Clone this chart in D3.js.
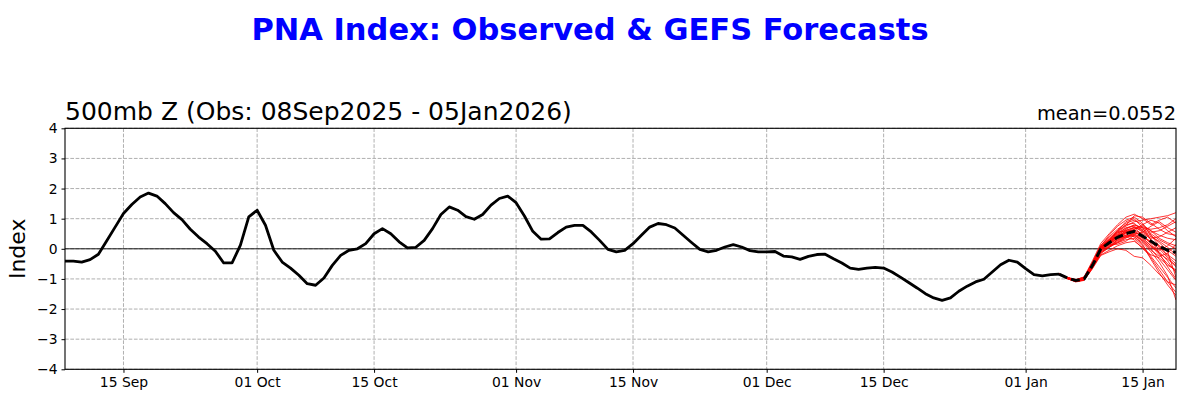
<!DOCTYPE html>
<html>
  <head>
    <meta charset="utf-8">
    <script type="text/javascript" src="https://cdn.jsdelivr.net/npm/d3@7"></script>
    <title>PNA Index</title>
    <style>
      body { margin: 0; background: #fff; }
      svg text { font-family: "DejaVu Sans", sans-serif; }
    </style>
  </head>
  <body>
    <div id="chart"></div>
    <script type="text/javascript">
    // observed daily PNA, 08 Sep 2025 .. 05 Jan 2026
    var obsStart = "2025-09-08";
    var obsValues = [
      -0.41, -0.41, -0.44, -0.36, -0.18, 0.27, 0.72, 1.17, 1.47, 1.72,
      1.85, 1.75, 1.50, 1.20, 0.97, 0.65, 0.39, 0.17, -0.08, -0.47,
      -0.47, 0.12, 1.06, 1.28, 0.78, -0.05, -0.44, -0.64, -0.88, -1.16,
      -1.21, -0.97, -0.55, -0.22, -0.05, 0.00, 0.17, 0.50, 0.67, 0.50,
      0.23, 0.03, 0.05, 0.28, 0.67, 1.14, 1.39, 1.28, 1.07, 0.98,
      1.14, 1.45, 1.67, 1.75, 1.53, 1.09, 0.58, 0.32, 0.33, 0.54,
      0.72, 0.78, 0.78, 0.56, 0.28, -0.02, -0.10, -0.05, 0.17, 0.45,
      0.72, 0.84, 0.80, 0.69, 0.45, 0.21, -0.02, -0.10, -0.05, 0.06,
      0.14, 0.06, -0.06, -0.10, -0.10, -0.09, -0.24, -0.27, -0.35, -0.25,
      -0.19, -0.18, -0.33, -0.47, -0.64, -0.68, -0.64, -0.62, -0.64, -0.77,
      -0.94, -1.12, -1.30, -1.49, -1.63, -1.71, -1.63, -1.41, -1.24, -1.10,
      -1.01, -0.77, -0.53, -0.38, -0.44, -0.66, -0.86, -0.90, -0.86, -0.84
    ];

    // GEFS forecast, daily from 05 Jan 2026
    var fcstStart = "2026-01-05";
    var fcstMean = [-0.84, -0.97, -1.05, -1.00, -0.55, 0.00, 0.20, 0.38, 0.50, 0.58, 0.42, 0.25, 0.08, -0.05, -0.12];
    var members = [
      [-0.84, -0.95, -1.05, -0.98, -0.50, 0.05, 0.30, 0.55, 0.75, 0.90, 0.95, 1.00, 1.05, 1.10, 1.20],
      [-0.84, -0.98, -1.08, -1.02, -0.60, -0.05, 0.20, 0.45, 0.65, 0.80, 0.70, 0.55, 0.60, 0.75, 0.90],
      [-0.84, -0.96, -1.04, -0.95, -0.45, 0.10, 0.35, 0.60, 0.80, 0.85, 0.60, 0.30, 0.05, -0.20, -0.40],
      [-0.84, -0.99, -1.10, -1.05, -0.65, -0.15, 0.05, 0.20, 0.30, 0.35, 0.10, -0.25, -0.60, -0.95, -1.30],
      [-0.84, -0.97, -1.06, -1.00, -0.55, 0.00, 0.25, 0.40, 0.45, 0.40, 0.20, -0.10, -0.45, -0.90, -1.70],
      [-0.84, -0.95, -1.03, -0.97, -0.52, 0.02, 0.18, 0.30, 0.45, 0.65, 0.75, 0.60, 0.35, 0.20, 0.10],
      [-0.84, -0.98, -1.07, -1.04, -0.62, -0.12, 0.08, 0.25, 0.40, 0.50, 0.35, 0.10, -0.20, -0.50, -0.75],
      [-0.84, -0.96, -1.05, -1.01, -0.58, -0.05, 0.22, 0.50, 0.70, 0.75, 0.55, 0.40, 0.25, 0.05, -0.20],
      [-0.84, -0.97, -1.04, -0.96, -0.48, 0.08, 0.28, 0.45, 0.55, 0.65, 0.80, 0.95, 0.85, 0.60, 0.40],
      [-0.84, -0.99, -1.09, -1.03, -0.62, -0.20, -0.05, 0.10, 0.20, 0.25, 0.05, -0.30, -0.70, -1.10, -1.45],
      [-0.84, -0.96, -1.05, -0.99, -0.53, 0.03, 0.26, 0.48, 0.62, 0.70, 0.45, 0.20, 0.00, -0.30, -0.60],
      [-0.84, -0.97, -1.06, -1.00, -0.56, -0.02, 0.15, 0.35, 0.55, 0.70, 0.60, 0.45, 0.20, -0.05, -0.25],
      [-0.84, -0.95, -1.02, -0.94, -0.46, 0.12, 0.40, 0.65, 0.85, 0.95, 0.80, 0.60, 0.45, 0.35, 0.30],
      [-0.84, -0.98, -1.08, -1.02, -0.60, -0.08, 0.10, 0.20, 0.35, 0.55, 0.45, 0.15, -0.15, -0.35, -0.55],
      [-0.84, -0.97, -1.05, -0.98, -0.54, 0.00, 0.20, 0.38, 0.50, 0.55, 0.40, 0.25, 0.10, -0.10, -0.95],
      [-0.84, -0.96, -1.04, -0.97, -0.50, 0.04, 0.24, 0.42, 0.58, 0.62, 0.50, 0.35, 0.40, 0.55, 0.70],
      [-0.84, -0.98, -1.07, -1.01, -0.58, -0.04, 0.12, 0.28, 0.42, 0.48, 0.30, 0.00, -0.35, -0.70, -1.05],
      [-0.84, -0.97, -1.06, -1.00, -0.57, -0.03, 0.20, 0.40, 0.60, 0.72, 0.65, 0.50, 0.30, 0.15, 0.00],
      [-0.84, -0.96, -1.05, -0.99, -0.52, 0.06, 0.30, 0.52, 0.68, 0.78, 0.70, 0.65, 0.70, 0.80, 1.00],
      [-0.84, -0.98, -1.06, -1.02, -0.59, -0.10, 0.05, 0.22, 0.38, 0.45, 0.28, 0.05, -0.10, -0.40, -0.80],
      [-0.84, -0.96, -1.03, -0.93, -0.40, 0.18, 0.50, 0.80, 1.05, 1.15, 1.00, 0.80, 0.95, 1.05, 0.85],
      [-0.84, -0.99, -1.09, -1.04, -0.66, -0.22, -0.10, 0.00, -0.05, -0.25, -0.30, -0.55, -0.85, -1.10, -1.20],
      [-0.84, -0.97, -1.05, -0.97, -0.50, 0.10, 0.45, 0.75, 0.95, 1.05, 0.85, 0.45, 0.10, -0.25, -0.50],
      [-0.84, -0.98, -1.06, -1.01, -0.56, 0.00, 0.30, 0.55, 0.60, 0.50, 0.55, 0.75, 0.90, 0.70, 0.55],
      [-0.84, -0.96, -1.04, -0.98, -0.52, 0.05, 0.15, 0.15, 0.25, 0.45, 0.25, -0.05, -0.25, -0.15, 0.15],
      [-0.84, -0.97, -1.07, -1.02, -0.60, -0.06, 0.25, 0.60, 0.90, 1.00, 0.70, 0.30, -0.15, -0.60, -1.00],
      [-0.84, -0.98, -1.05, -0.99, -0.55, -0.02, 0.18, 0.35, 0.40, 0.30, 0.00, -0.20, -0.30, -0.55, -0.70],
      [-0.84, -0.95, -1.04, -0.96, -0.48, 0.06, 0.32, 0.58, 0.78, 1.10, 1.05, 0.85, 0.65, 0.50, 0.45],
      [-0.84, -0.97, -1.06, -1.00, -0.54, 0.02, 0.22, 0.42, 0.52, 0.62, 0.35, 0.10, -0.05, 0.10, 0.35],
      [-0.84, -0.99, -1.08, -1.03, -0.62, -0.15, 0.05, 0.30, 0.55, 0.40, 0.15, -0.35, -0.80, -1.20, -1.55]
    ];

    var xTicks = ["2025-09-15", "2025-10-01", "2025-10-15", "2025-11-01", "2025-11-15",
                  "2025-12-01", "2025-12-15", "2026-01-01", "2026-01-15"];
    var yTicks = [-4, -3, -2, -1, 0, 1, 2, 3, 4];
    var xRange = ["2025-09-08", "2026-01-19"];

    var titleText = "PNA Index: Observed & GEFS Forecasts";
    var leftTitle = "500mb Z (Obs: 08Sep2025 - 05Jan2026)";
    var rightTitle = "mean=0.0552";

    var w = 1186, h = 410;
    var m = {left: 65, right: 1176, top: 128.3, bottom: 369.3};

    var parse = d3.utcParse("%Y-%m-%d");
    var dayAfter = function(start, i) { return d3.utcDay.offset(parse(start), i); };

    var obs = obsValues.map(function(v, i) { return {date: dayAfter(obsStart, i), v: v}; });
    var mean = fcstMean.map(function(v, i) { return {date: dayAfter(fcstStart, i), v: v}; });
    var ens = members.map(function(arr) {
      return arr.map(function(v, i) { return {date: dayAfter(fcstStart, i), v: v}; });
    });

    var x = d3.scaleUtc().domain(xRange.map(parse)).range([m.left, m.right]);
    var y = d3.scaleLinear().domain([-4, 4]).range([m.bottom, m.top]);

    var svg = d3.select("#chart").append("svg")
        .attr("width", w)
        .attr("height", h);

    svg.append("defs").append("clipPath").attr("id", "clip")
      .append("rect")
        .attr("x", m.left).attr("y", m.top)
        .attr("width", m.right - m.left).attr("height", m.bottom - m.top);

    // grid
    var grid = svg.append("g");
    grid.selectAll("line.gx").data(xTicks.map(parse)).enter().append("line")
        .attr("x1", function(d) { return x(d); }).attr("x2", function(d) { return x(d); })
        .attr("y1", m.top).attr("y2", m.bottom);
    grid.selectAll("line.gy").data(yTicks).enter().append("line")
        .attr("x1", m.left).attr("x2", m.right)
        .attr("y1", function(d) { return y(d); }).attr("y2", function(d) { return y(d); });
    grid.selectAll("line")
        .attr("stroke", "#b0b0b0")
        .attr("stroke-width", 1)
        .attr("stroke-dasharray", "3.7,1.6");

    // zero line
    svg.append("line")
        .attr("x1", m.left).attr("x2", m.right)
        .attr("y1", y(0)).attr("y2", y(0))
        .attr("stroke", "#000").attr("stroke-width", 0.9);

    var line = d3.line()
        .x(function(d) { return x(d.date); })
        .y(function(d) { return y(d.v); });

    var plot = svg.append("g").attr("clip-path", "url(#clip)");

    plot.selectAll("path.ens").data(ens).enter().append("path")
        .attr("class", "ens")
        .attr("d", line)
        .attr("fill", "none")
        .attr("stroke", "#ff0000")
        .attr("stroke-width", 0.8);

    plot.append("path")
        .datum(obs)
        .attr("d", line)
        .attr("fill", "none")
        .attr("stroke", "#000")
        .attr("stroke-width", 2.8)
        .attr("stroke-linejoin", "round");

    plot.append("path")
        .datum(mean)
        .attr("d", line)
        .attr("fill", "none")
        .attr("stroke", "#000")
        .attr("stroke-width", 3)
        .attr("stroke-dasharray", "9,4");

    // axes
    var xAxis = d3.axisBottom(x)
        .tickValues(xTicks.map(parse))
        .tickFormat(d3.utcFormat("%d %b"))
        .tickSizeOuter(0)
        .tickSize(3.5)
        .tickPadding(4.5);
    var yAxis = d3.axisLeft(y)
        .tickValues(yTicks)
        .tickFormat(function(d) { return d < 0 ? "\u2212" + Math.abs(d) : String(d); })
        .tickSizeOuter(0)
        .tickSize(3.5)
        .tickPadding(4);

    var gx = svg.append("g").attr("transform", "translate(0," + m.bottom + ")").call(xAxis);
    var gy = svg.append("g").attr("transform", "translate(" + m.left + ",0)").call(yAxis);
    [gx, gy].forEach(function(g) {
      g.select(".domain").remove();
      g.selectAll("line").attr("stroke", "#000").attr("stroke-width", 1);
      g.selectAll("text").attr("fill", "#000").style("font-size", "13.9px");
    });

    // frame
    svg.append("rect")
        .attr("x", m.left).attr("y", m.top)
        .attr("width", m.right - m.left).attr("height", m.bottom - m.top)
        .attr("fill", "none").attr("stroke", "#000").attr("stroke-width", 1.1);

    // titles
    svg.append("text")
        .attr("x", 590).attr("y", 40)
        .attr("text-anchor", "middle")
        .style("font-size", "30.5px").style("font-weight", "bold")
        .attr("fill", "#0000ff")
        .text(titleText);

    svg.append("text")
        .attr("x", m.left).attr("y", 120)
        .style("font-size", "25px")
        .attr("fill", "#000")
        .text(leftTitle);

    svg.append("text")
        .attr("x", m.right).attr("y", 120)
        .attr("text-anchor", "end")
        .style("font-size", "19.4px")
        .attr("fill", "#000")
        .text(rightTitle);

    svg.append("text")
        .attr("transform", "translate(25," + ((m.top + m.bottom) / 2) + ") rotate(-90)")
        .attr("text-anchor", "middle")
        .style("font-size", "22px")
        .attr("fill", "#000")
        .text("Index");
    </script>
  </body>
</html>
